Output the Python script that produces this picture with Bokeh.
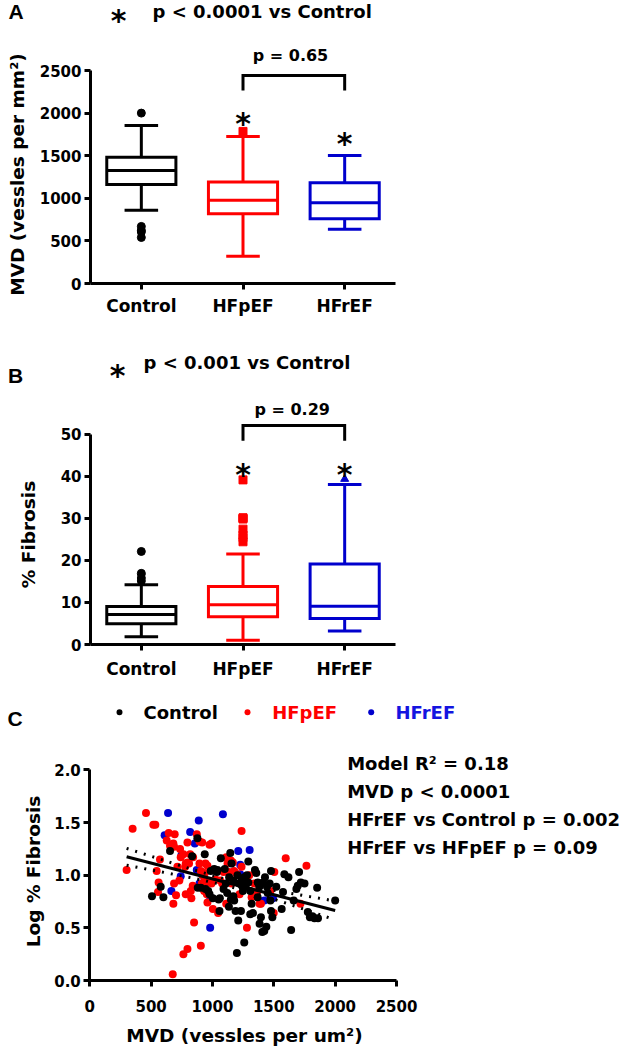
import math
from bokeh.plotting import figure
from bokeh.models import Range1d, FixedTicker, Label, PrintfTickFormatter, ColumnDataSource, LinearAxis
from bokeh.layouts import column
from bokeh.embed import file_html
from bokeh.resources import INLINE

# ---------------- data ----------------
categories = ["Control", "HFpEF", "HFrEF"]
group_colors = ["#000000", "#FF0000", "#0000CD"]
legend_text_colors = ["#000000", "#FF0000", "#1414E0"]
outlier_markers = ["circle", "square", "triangle"]

# Panel A: MVD box plots (vessels per mm2)
mvd_lo = [859, 320, 636]
mvd_q1 = [1163, 820, 761]
mvd_med = [1327, 976, 948]
mvd_q3 = [1483, 1190, 1183]
mvd_hi = [1854, 1725, 1503]
mvd_outliers = [[2000, 670, 625, 605, 540], [1785], []]
mvd_ticks = [0, 500, 1000, 1500, 2000, 2500]
mvd_star = [None, 1953, 1711]          # asterisk heights (data units)
mvd_bracket = (2441, 2266)             # bracket top / leg bottom

# Panel B: % fibrosis box plots
fib_lo = [1.85, 1.0, 3.2]
fib_q1 = [4.9, 6.6, 6.2]
fib_med = [7.1, 9.45, 9.1]
fib_q3 = [9.05, 13.8, 19.1]
fib_hi = [14.2, 21.5, 38.0]
fib_outliers = [[22.1, 16.9, 15.8, 15.1], [39.1, 30.1, 30.0, 29.8, 27.4, 26.0, 25.4, 24.4], [39.3]]
fib_ticks = [0, 10, 20, 30, 40, 50]
fib_star = [None, 41.9, 41.9]
fib_bracket = (52.0, 48.4)

# Panel C: scatter, MVD vs log % fibrosis
ctrl_x = [507, 600, 578, 654, 877, 834, 937, 905, 943, 965, 976, 986, 1014, 1036, 1041, 1068,
          1003, 1057, 1060, 1109, 1136, 1145, 1155, 1134, 1150, 1177, 1188, 1210, 1199, 1259,
          1232, 1204, 1218, 1237, 1259, 1248, 1270, 1292, 1281, 1292, 1308, 1319, 1308, 1330,
          1346, 1357, 1368, 1382, 1368, 1384, 1406, 1422, 1439, 1395, 1412, 1428, 1444, 1450,
          1466, 1477, 1472, 1477, 1488, 1520, 1575, 1564, 1586, 1619, 1641, 1662, 1684, 1695,
          1706, 1750, 1777, 1794, 1815, 1853, 1831, 2000, 1860, 1720,
          1090, 1120, 1170, 1240, 1265, 1100, 1050, 1170, 880]
ctrl_y = [0.80, 0.79, 0.89, 1.23, 1.35, 1.18, 1.20, 0.88, 0.87, 0.85, 0.82, 1.04, 1.06, 1.03, 1.05, 1.16,
          0.78, 0.66, 0.78, 0.92, 0.98, 1.21, 1.11, 0.70, 0.77, 0.76, 0.66, 0.57, 0.26, 0.36,
          0.66, 1.00, 0.92, 0.95, 0.98, 0.85, 0.89, 1.13, 1.00, 0.93, 0.85, 0.73, 0.63, 0.64,
          1.05, 1.02, 0.93, 0.89, 0.79, 0.54, 0.46, 0.47, 0.51, 0.60, 0.93, 0.98, 0.89, 0.83,
          0.92, 1.04, 0.76, 0.66, 0.60, 0.89, 0.84, 0.68, 1.01, 0.98, 0.48, 0.76, 0.87, 0.90,
          1.03, 0.92, 0.65, 0.60, 0.61, 0.88, 0.59, 0.76, 0.59, 0.93,
          0.87, 0.83, 0.95, 0.90, 0.93, 1.06, 0.77, 0.80, 0.88]
hfpef_x = [300, 349, 458, 518, 534, 545, 572, 556, 561, 643, 627, 654, 692, 681, 687, 736,
           741, 714, 730, 687, 703, 681, 763, 782, 796, 809, 777, 796, 818, 842, 782, 823,
           839, 828, 850, 763, 796, 905, 676, 872, 894, 916, 894, 905, 918, 937, 943, 959,
           937, 913, 932, 954, 976, 992, 965, 992, 1003, 959, 1025, 1046, 1063, 1079, 1090,
           1112, 1123, 1150, 1166, 1134, 1177, 1155, 1112, 1237, 1237, 1199, 1221, 1281, 1300,
           1341, 1363, 1384, 1395, 1504, 1499, 1472, 1597, 1766, 1717, 1319]
hfpef_y = [1.05, 1.44, 1.59, 1.48, 1.48, 1.04, 1.15, 0.84, 0.93, 1.40, 1.33, 1.28, 1.39, 1.30, 1.27, 1.25,
           1.17, 1.08, 0.95, 0.92, 0.81, 0.73, 1.20, 1.11, 1.12, 1.11, 1.08, 1.31, 1.20, 1.17, 0.82, 0.85,
           0.90, 0.78, 0.55, 0.25, 0.30, 0.33, 0.06, 1.39, 1.32, 1.31, 1.11, 1.04, 1.00, 1.02, 1.11, 1.09,
           0.95, 0.92, 0.85, 0.82, 1.29, 1.30, 0.93, 0.92, 0.68, 0.74, 0.96, 0.64, 0.95, 0.92, 1.03,
           1.17, 1.11, 1.14, 1.12, 1.03, 1.04, 0.92, 0.73, 1.42, 1.08, 1.01, 0.82, 0.50, 1.00,
           0.92, 0.84, 0.73, 0.73, 1.03, 0.64, 0.85, 1.16, 1.09, 0.73, 0.79]
hfref_x = [638, 610, 665, 818, 888, 1085, 856, 747, 741, 872, 894, 981, 981, 1210, 1303, 1226, 1226, 1422, 1493]
hfref_y = [1.59, 1.38, 0.85, 1.41, 1.52, 1.58, 1.30, 1.19, 0.99, 1.05, 0.92, 0.50, 0.79, 1.23, 1.24, 1.10, 1.01, 0.76, 0.78]

# regression fit and 95% band
fit_x = [300, 2000]
fit_y = [1.175, 0.665]
band_x = [300, 500, 700, 900, 1100, 1300, 1500, 1700, 1900, 2000]
band_upper = [1.255, 1.18, 1.105, 1.032, 0.965, 0.907, 0.857, 0.815, 0.775, 0.755]
band_lower = [1.095, 1.05, 1.005, 0.958, 0.905, 0.843, 0.773, 0.695, 0.615, 0.575]
c_xticks = [0, 500, 1000, 1500, 2000, 2500]
c_yticks = [0.0, 0.5, 1.0, 1.5, 2.0]

stats_text = ["Model R\u00b2 = 0.18", "MVD p < 0.0001",
              "HFrEF vs Control p = 0.002", "HFrEF vs HFpEF p = 0.09"]

FONT = "DejaVu Sans"
W = 620


def lab(p, x, y, text, size, color="black", align="left", baseline="middle", angle=0.0,
        font=FONT, style="bold"):
    p.add_layout(Label(x=x, y=y, text=text, text_font=font, text_font_size=size,
                       text_font_style=style, text_color=color, text_align=align,
                       text_baseline=baseline, angle=angle))


def make_fig(height, x0, x1, y0, y1):
    p = figure(width=W, height=height, x_range=Range1d(x0, x1), y_range=Range1d(y0, y1),
               output_backend="svg", toolbar_location=None, title=None,
               x_axis_location=None, y_axis_location=None,
               min_border=0, min_border_left=0, min_border_right=0,
               min_border_top=0, min_border_bottom=0)
    p.outline_line_color = None
    p.grid.visible = False
    p.background_fill_color = "white"
    p.border_fill_color = "white"
    return p


def add_axes(p, xloc, yloc, xticks, xbounds, yticks, ybounds, xsize, ysize, xstand, ystand):
    xa = LinearAxis(fixed_location=xloc, ticker=FixedTicker(ticks=xticks), bounds=xbounds)
    ya = LinearAxis(fixed_location=yloc, ticker=FixedTicker(ticks=yticks), bounds=ybounds)
    for ax, sz, st in ((xa, xsize, xstand), (ya, ysize, ystand)):
        ax.axis_line_width = 3
        ax.axis_line_color = "black"
        ax.major_tick_line_width = 3
        ax.major_tick_line_color = "black"
        ax.major_tick_in = 0
        ax.major_tick_out = 6
        ax.minor_tick_line_color = None
        ax.major_label_text_font = FONT
        ax.major_label_text_font_style = "bold"
        ax.major_label_text_color = "black"
        ax.major_label_text_font_size = sz
        ax.major_label_standoff = st
    p.add_layout(xa, "below")
    p.add_layout(ya, "left")
    return xa, ya


def draw_boxes(p, lo, q1, med, q3, hi, outliers):
    xs = list(range(len(categories)))
    hw, cw = 0.34, 0.165
    src = ColumnDataSource(dict(
        x=xs, lo=lo, q1=q1, med=med, q3=q3, hi=hi, color=group_colors,
        xl=[x - hw for x in xs], xr=[x + hw for x in xs],
        cl=[x - cw for x in xs], cr=[x + cw for x in xs]))
    p.segment(x0="x", y0="q3", x1="x", y1="hi", line_color="color", line_width=3, source=src)
    p.segment(x0="x", y0="q1", x1="x", y1="lo", line_color="color", line_width=3, source=src)
    p.segment(x0="cl", y0="hi", x1="cr", y1="hi", line_color="color", line_width=3, source=src)
    p.segment(x0="cl", y0="lo", x1="cr", y1="lo", line_color="color", line_width=3, source=src)
    p.quad(left="xl", right="xr", bottom="q1", top="q3", fill_color="white",
           line_color="color", line_width=3, line_join="miter", source=src)
    p.segment(x0="xl", y0="med", x1="xr", y1="med", line_color="color", line_width=3, source=src)
    for i, outs in enumerate(outliers):
        if outs:
            p.scatter(x=[i] * len(outs), y=outs, marker=outlier_markers[i], size=8,
                      fill_color=group_colors[i], line_color=group_colors[i])


def bracket(p, i0, i1, ytop, ybot):
    p.line(x=[i0, i0, i1, i1], y=[ybot, ytop, ytop, ybot], line_color="black",
           line_width=3, line_join="miter")


# ---- screen-pixel layout helpers (page pixels) ----
AX_LEFT = 90.0           # y-axis position, panels A/B
CAT_PX = 101.67          # pixels per category
A_TOP, A_H, A_ZERO, A_PX = 0, 318, 283.0, 213.0 / 2500
B_TOP, B_H, B_ZERO, B_PX = 318, 372, 644.0, 4.21
C_TOP, C_H, C_ZERO, C_PX = 690, 356, 980.0, 105.3
C_X0, C_XPX = 89.3, 306.7 / 2500


def ax_x(sx):
    return -0.5 + (sx - AX_LEFT) / CAT_PX


def a_y(sy):
    return (A_ZERO - sy) / A_PX


def b_y(sy):
    return (B_ZERO - sy) / B_PX


def c_x(sx):
    return (sx - C_X0) / C_XPX


def c_y(sy):
    return (C_ZERO - sy) / C_PX


# ---------------- Panel A ----------------
pA = make_fig(A_H, ax_x(0), ax_x(W), a_y(A_TOP + A_H), a_y(A_TOP))
xa, ya = add_axes(pA, 0, -0.5, list(range(len(categories))), (-0.5, 2.5), mvd_ticks,
                  (mvd_ticks[0], mvd_ticks[-1]), "17px", "15px", 6, 3)
xa.major_label_overrides = {i: c for i, c in enumerate(categories)}
draw_boxes(pA, mvd_lo, mvd_q1, mvd_med, mvd_q3, mvd_hi, mvd_outliers)
bracket(pA, 1, 2, mvd_bracket[0], mvd_bracket[1])
lab(pA, ax_x(290), a_y(55), "p = 0.65", "16px", align="center")
STAR_DROP = 6  # px: asterisk glyph sits above the text middle
for i, s in enumerate(mvd_star):
    if s is not None:
        lab(pA, i, s - STAR_DROP / A_PX, "*", "30px", align="center")
lab(pA, ax_x(118), a_y(14 + STAR_DROP), "*", "30px", align="center")
lab(pA, ax_x(152), a_y(11), "p < 0.0001 vs Control", "18px")
lab(pA, ax_x(15.5), a_y(11), "A", "21px", align="center", font="Liberation Sans")
lab(pA, ax_x(17), a_y(174), "MVD (vessles per mm\u00b2)", "18.5px", align="center", angle=math.pi / 2)

# ---------------- Panel B ----------------
pB = make_fig(B_H, ax_x(0), ax_x(W), b_y(B_TOP + B_H), b_y(B_TOP))
xb, yb = add_axes(pB, 0, -0.5, list(range(len(categories))), (-0.5, 2.5), fib_ticks,
                  (fib_ticks[0], fib_ticks[-1]), "17px", "15px", 8, 3)
xb.major_label_overrides = {i: c for i, c in enumerate(categories)}
draw_boxes(pB, fib_lo, fib_q1, fib_med, fib_q3, fib_hi, fib_outliers)
bracket(pB, 1, 2, fib_bracket[0], fib_bracket[1])
lab(pB, ax_x(291.7), b_y(409.3), "p = 0.29", "16px", align="center")
for i, s in enumerate(fib_star):
    if s is not None:
        lab(pB, i, s - STAR_DROP / B_PX, "*", "30px", align="center")
lab(pB, ax_x(117), b_y(369.3 + STAR_DROP), "*", "30px", align="center")
lab(pB, ax_x(143), b_y(361.7), "p < 0.001 vs Control", "18px")
lab(pB, ax_x(15), b_y(374.5), "B", "21px", align="center", font="Liberation Sans")
lab(pB, ax_x(28), b_y(534), "% Fibrosis", "18.5px", align="center", angle=math.pi / 2)

# ---------------- Panel C ----------------
pC = make_fig(C_H, c_x(0), c_x(W), c_y(C_TOP + C_H), c_y(C_TOP))
xc, yc = add_axes(pC, 0, 0, c_xticks, (c_xticks[0], c_xticks[-1]), c_yticks,
                  (c_yticks[0], c_yticks[-1]), "15px", "15px", 13, 3)
yc.formatter = PrintfTickFormatter(format="%.1f")

pC.scatter(x=hfref_x, y=hfref_y, size=8, fill_color=group_colors[2], line_color=None)
pC.scatter(x=hfpef_x, y=hfpef_y, size=8, fill_color=group_colors[1], line_color=None)
pC.scatter(x=ctrl_x, y=ctrl_y, size=8, fill_color=group_colors[0], line_color=None)
pC.line(x=fit_x, y=fit_y, line_color="black", line_width=3)
pC.line(x=band_x, y=band_upper, line_color="black", line_width=3, line_dash="2 7")
pC.line(x=band_x, y=band_lower, line_color="black", line_width=3, line_dash="2 7")

legend_sy = 711.7
legend_dot_sx = [119, 247, 370.7]
legend_txt_sx = [143, 271.7, 395]
pC.scatter(x=[c_x(s) for s in legend_dot_sx], y=[c_y(legend_sy)] * 3, size=6,
           fill_color=group_colors, line_color=None)
for i, c in enumerate(categories):
    lab(pC, c_x(legend_txt_sx[i]), c_y(legend_sy), c, "18px", color=legend_text_colors[i])
lab(pC, c_x(14.5), c_y(718), "C", "21px", align="center", font="Liberation Sans")
lab(pC, c_x(32.5), c_y(871), "Log % Fibrosis", "18.5px", align="center", angle=math.pi / 2)
lab(pC, c_x(244), c_y(1035), "MVD (vessles per um\u00b2)", "18.5px", align="center")
stats_sy = [763.3, 791, 819.3, 846.7]
for t, sy in zip(stats_text, stats_sy):
    lab(pC, c_x(346.7), c_y(sy), t, "18px")

layout = column(pA, pB, pC, spacing=0)
open("out.html", "w").write(file_html(layout, INLINE))
